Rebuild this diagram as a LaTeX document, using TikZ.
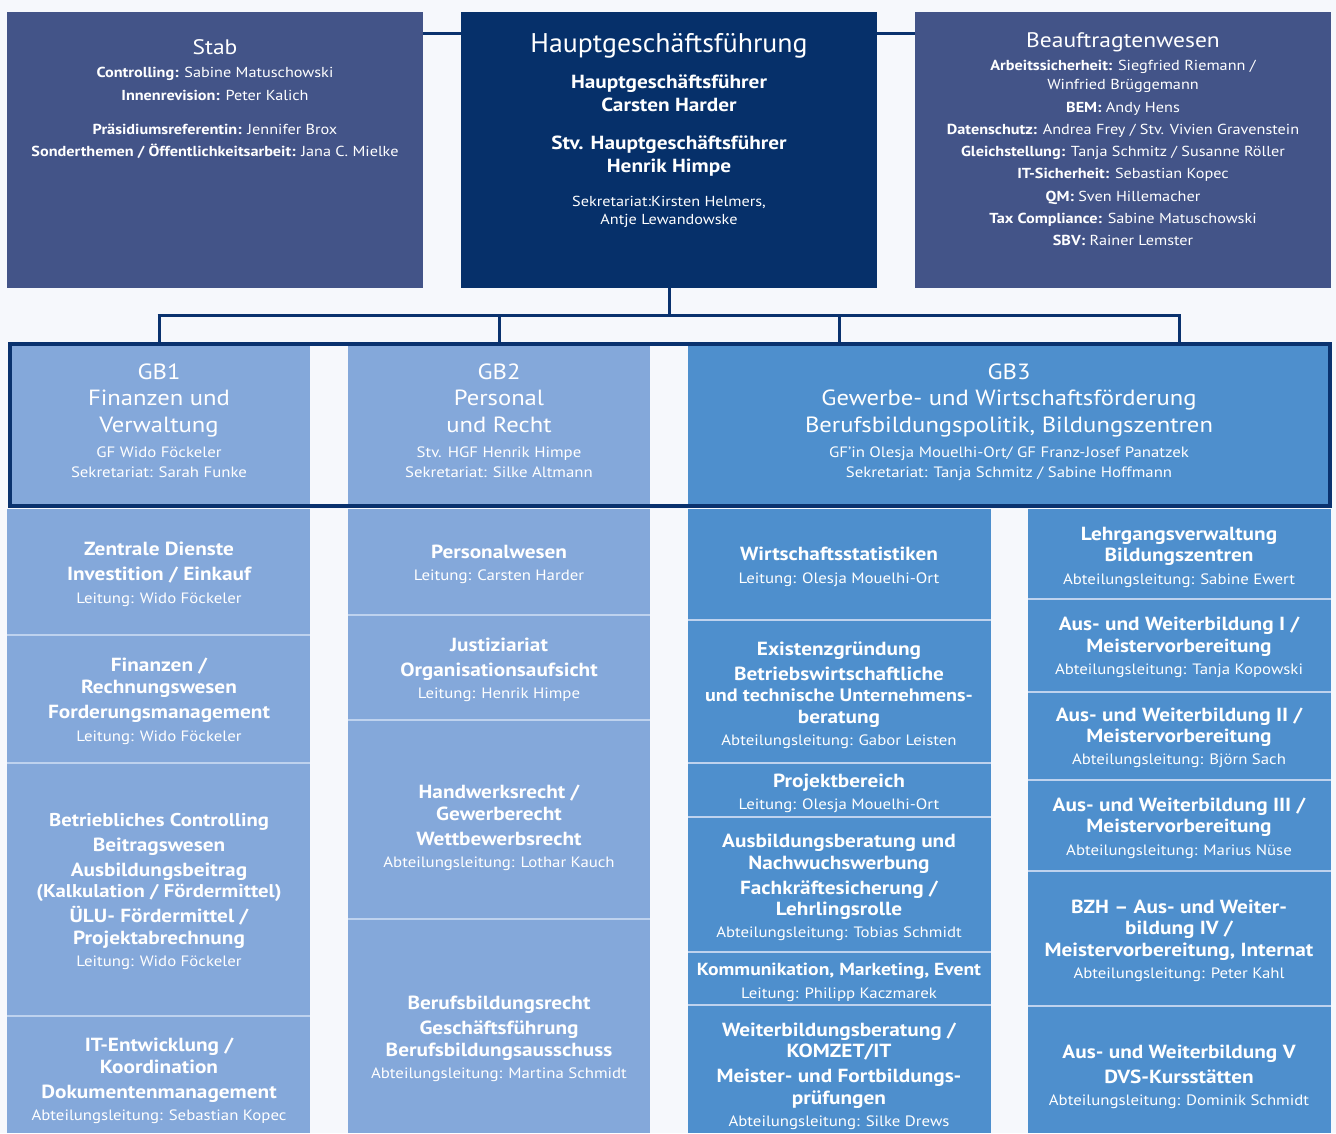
\documentclass[tikz,border=0pt]{standalone}
\usepackage{fontspec}
\setmainfont{PT Sans}[FakeStretch=1.12]
\newfontfamily\hgffont{PT Sans}[FakeStretch=1.03]
\usetikzlibrary{calc}
\definecolor{bgc}{RGB}{246,248,252}
\definecolor{stabc}{RGB}{67,84,136}
\definecolor{hgfc}{RGB}{6,48,106}
\definecolor{lightc}{RGB}{132,168,218}
\definecolor{midc}{RGB}{78,143,205}
\definecolor{darkline}{RGB}{10,50,110}
\definecolor{sepc}{RGB}{190,210,238}
\newcommand\fs[1]{\fontsize{#1}{#1}\selectfont}
\newcounter{lnc}
% \txl{size}{weight}{x}{y}{text}
\newcommand\txl[5]{\stepcounter{lnc}\node[txt,font=\fs{#1}#2] (L\thelnc) at (#3,{#4+0.36*#1}) {#5};}
% \boxr{name}{x1}{y1}{x2}{y2}{color}
\newcommand\boxr[6]{\node[boxn,fill=#6,minimum width={(#4-#2)*1pt},minimum height={(#5-#3)*1pt}] (#1) at (#2,#3) {};}
\tikzset{
  txt/.style={text=white,inner sep=0pt,outer sep=0pt,anchor=base},
  boxn/.style={inner sep=0pt,outer sep=0pt,anchor=north west,draw=none},
  conn/.style={draw=darkline,line width=3pt},
}
\begin{document}
\begin{tikzpicture}[x=1pt,y=-1pt]
\useasboundingbox[fill=bgc] (0,0) rectangle (1336,1133);
% top row
\boxr{stab}{7}{12}{423}{288}{stabc}
\boxr{hgf}{461}{12}{877}{288}{hgfc}
\boxr{beauf}{915}{12}{1331}{288}{stabc}
\draw[conn] ($(stab.north east)+(0,21)$) -- ($(hgf.north west)+(0,21)$);
\draw[conn] ($(hgf.north east)+(0,21)$) -- ($(beauf.north west)+(0,21)$);
% GB row
\boxr{gb1}{8}{342}{310}{507}{lightc}
\boxr{gb2}{348}{342}{650}{507}{lightc}
\boxr{gb3}{688}{342}{1330}{507}{midc}
\node[boxn,draw=darkline,line width=3.5pt,minimum width=1320pt,minimum height=162pt] (frame) at (9.75,343.75) {};
% columns backing
\boxr{k1}{7}{509}{310}{1133}{sepc}
\boxr{k2}{348}{509}{650}{1133}{sepc}
\boxr{k3}{688}{509}{991}{1133}{sepc}
\boxr{k4}{1028}{509}{1331}{1133}{sepc}
% col1
\boxr{c1a}{7}{509}{310}{634}{lightc}
\boxr{c1b}{7}{636}{310}{762}{lightc}
\boxr{c1c}{7}{764}{310}{1015}{lightc}
\boxr{c1d}{7}{1017}{310}{1133}{lightc}
% col2
\boxr{c2a}{348}{509}{650}{614}{lightc}
\boxr{c2b}{348}{616}{650}{719}{lightc}
\boxr{c2c}{348}{721}{650}{918}{lightc}
\boxr{c2d}{348}{920}{650}{1133}{lightc}
% col3
\boxr{c3a}{688}{509}{991}{619}{midc}
\boxr{c3b}{688}{621}{991}{762}{midc}
\boxr{c3c}{688}{764}{991}{816}{midc}
\boxr{c3d}{688}{818}{991}{951}{midc}
\boxr{c3e}{688}{953}{991}{1004}{midc}
\boxr{c3f}{688}{1006}{991}{1133}{midc}
% col4
\boxr{c4a}{1028}{509}{1331}{598}{midc}
\boxr{c4b}{1028}{600}{1331}{691}{midc}
\boxr{c4c}{1028}{693}{1331}{779}{midc}
\boxr{c4d}{1028}{781}{1331}{870}{midc}
\boxr{c4e}{1028}{872}{1331}{1005}{midc}
\boxr{c4f}{1028}{1007}{1331}{1133}{midc}
% tree connectors
\coordinate (bus) at (0,315);
\draw[conn] (hgf.south) -- (hgf.south |- bus);
\draw[conn] ([xshift=-1.5pt]gb1.north |- bus) -- ([xshift=1.5pt]c4a.north |- bus);
\foreach \n in {gb1,gb2,c3a,c4a} \draw[conn] (\n.north |- bus) -- (\n.north |- frame.north);
% ---- texts: Stab
\txl{21}{}{215}{47}{Stab}
\txl{14.5}{}{215}{72}{\textbf{Controlling:} Sabine Matuschowski}
\txl{14.5}{}{215}{95}{\textbf{Innenrevision:} Peter Kalich}
\txl{14.5}{}{215}{129}{\textbf{Präsidiumsreferentin:} Jennifer Brox}
\txl{14.5}{}{215}{151}{\textbf{Sonderthemen / Öffentlichkeitsarbeit:} Jana C. Mielke}
% HGF
\txl{27}{\hgffont}{669}{43}{Hauptgeschäftsführung}
\txl{19}{\bfseries}{669}{82}{Hauptgeschäftsführer}
\txl{19}{\bfseries}{669}{105}{Carsten Harder}
\txl{19}{\bfseries}{669}{143}{Stv. Hauptgeschäftsführer}
\txl{19}{\bfseries}{669}{166}{Henrik Himpe}
\txl{14.5}{}{669}{201}{Sekretariat:Kirsten Helmers,}
\txl{14.5}{}{669}{219}{Antje Lewandowske}
% Beauftragtenwesen
\txl{21}{}{1123}{40}{Beauftragtenwesen}
\txl{14.5}{}{1123}{65}{\textbf{Arbeitssicherheit:} Siegfried Riemann /}
\txl{14.5}{}{1123}{84}{Winfried Brüggemann}
\txl{14.5}{}{1123}{107}{\textbf{BEM:} Andy Hens}
\txl{14.5}{}{1123}{129}{\textbf{Datenschutz:} Andrea Frey / Stv. Vivien Gravenstein}
\txl{14.5}{}{1123}{151}{\textbf{Gleichstellung:} Tanja Schmitz / Susanne Röller}
\txl{14.5}{}{1123}{173}{\textbf{IT-Sicherheit:} Sebastian Kopec}
\txl{14.5}{}{1123}{196}{\textbf{QM:} Sven Hillemacher}
\txl{14.5}{}{1123}{218}{\textbf{Tax Compliance:} Sabine Matuschowski}
\txl{14.5}{}{1123}{240}{\textbf{SBV:} Rainer Lemster}
% GB1
\txl{22}{}{159}{372}{GB1}
\txl{22}{}{159}{398}{Finanzen und}
\txl{22}{}{159}{425}{Verwaltung}
\txl{15}{}{159}{452}{GF Wido Föckeler}
\txl{15}{}{159}{472}{Sekretariat: Sarah Funke}
% GB2
\txl{22}{}{499}{372}{GB2}
\txl{22}{}{499}{398}{Personal}
\txl{22}{}{499}{425}{und Recht}
\txl{15}{}{499}{452}{Stv. HGF Henrik Himpe}
\txl{15}{}{499}{472}{Sekretariat: Silke Altmann}
% GB3
\txl{22}{}{1009}{372}{GB3}
\txl{22}{}{1009}{398}{Gewerbe- und Wirtschaftsförderung}
\txl{22}{}{1009}{425}{Berufsbildungspolitik, Bildungszentren}
\txl{15}{}{1009}{452}{GF’in Olesja Mouelhi-Ort/ GF Franz-Josef Panatzek}
\txl{15}{}{1009}{472}{Sekretariat: Tanja Schmitz / Sabine Hoffmann}
% col1
\txl{19}{\bfseries}{159}{549}{Zentrale Dienste}
\txl{19}{\bfseries}{159}{574}{Investition / Einkauf}
\txl{15}{}{159}{598}{Leitung: Wido Föckeler}
\txl{19}{\bfseries}{159}{665}{Finanzen /}
\txl{19}{\bfseries}{159}{687}{Rechnungswesen}
\txl{19}{\bfseries}{159}{712}{Forderungsmanagement}
\txl{15}{}{159}{736}{Leitung: Wido Föckeler}
\txl{18.5}{\bfseries}{159}{820}{Betriebliches Controlling}
\txl{19}{\bfseries}{159}{845}{Beitragswesen}
\txl{19}{\bfseries}{159}{870}{Ausbildungsbeitrag}
\txl{18.5}{\bfseries}{159}{891}{(Kalkulation / Fördermittel)}
\txl{19}{\bfseries}{159}{916}{ÜLU- Fördermittel /}
\txl{19}{\bfseries}{159}{938}{Projektabrechnung}
\txl{15}{}{159}{961}{Leitung: Wido Föckeler}
\txl{19}{\bfseries}{159}{1045}{IT-Entwicklung /}
\txl{19}{\bfseries}{159}{1067}{Koordination}
\txl{19}{\bfseries}{159}{1092}{Dokumentenmanagement}
\txl{15}{}{159}{1115}{Abteilungsleitung: Sebastian Kopec}
% col2
\txl{19}{\bfseries}{499}{552}{Personalwesen}
\txl{15}{}{499}{575}{Leitung: Carsten Harder}
\txl{19}{\bfseries}{499}{645}{Justiziariat}
\txl{19}{\bfseries}{499}{670}{Organisationsaufsicht}
\txl{15}{}{499}{693}{Leitung: Henrik Himpe}
\txl{19}{\bfseries}{499}{792}{Handwerksrecht /}
\txl{19}{\bfseries}{499}{814}{Gewerberecht}
\txl{19}{\bfseries}{499}{839}{Wettbewerbsrecht}
\txl{15}{}{499}{862}{Abteilungsleitung: Lothar Kauch}
\txl{19}{\bfseries}{499}{1003}{Berufsbildungsrecht}
\txl{19}{\bfseries}{499}{1028}{Geschäftsführung}
\txl{19}{\bfseries}{499}{1050}{Berufsbildungsausschuss}
\txl{15}{}{499}{1073}{Abteilungsleitung: Martina Schmidt}
% col3
\txl{19}{\bfseries}{839}{554}{Wirtschaftsstatistiken}
\txl{15}{}{839}{578}{Leitung: Olesja Mouelhi-Ort}
\txl{19}{\bfseries}{839}{649}{Existenzgründung}
\txl{19}{\bfseries}{839}{674}{Betriebswirtschaftliche}
\txl{18}{\bfseries}{839}{695}{und technische Unternehmens-}
\txl{19}{\bfseries}{839}{717}{beratung}
\txl{15}{}{839}{740}{Abteilungsleitung: Gabor Leisten}
\txl{19}{\bfseries}{839}{781}{Projektbereich}
\txl{15}{}{839}{804}{Leitung: Olesja Mouelhi-Ort}
\txl{19}{\bfseries}{839}{841}{Ausbildungsberatung und}
\txl{19}{\bfseries}{839}{863}{Nachwuchswerbung}
\txl{19}{\bfseries}{839}{888}{Fachkräftesicherung /}
\txl{19}{\bfseries}{839}{909}{Lehrlingsrolle}
\txl{15}{}{839}{932}{Abteilungsleitung: Tobias Schmidt}
\txl{17.5}{\bfseries}{839}{969}{Kommunikation, Marketing, Event}
\txl{15}{}{839}{993}{Leitung: Philipp Kaczmarek}
\txl{19}{\bfseries}{839}{1030}{Weiterbildungsberatung /}
\txl{19}{\bfseries}{839}{1051}{KOMZET/IT}
\txl{19}{\bfseries}{839}{1076}{Meister- und Fortbildungs-}
\txl{19}{\bfseries}{839}{1098}{prüfungen}
\txl{15}{}{839}{1121}{Abteilungsleitung: Silke Drews}
% col4
\txl{19}{\bfseries}{1179}{534}{Lehrgangsverwaltung}
\txl{19}{\bfseries}{1179}{555}{Bildungszentren}
\txl{15}{}{1179}{579}{Abteilungsleitung: Sabine Ewert}
\txl{19}{\bfseries}{1179}{624}{Aus- und Weiterbildung I /}
\txl{19}{\bfseries}{1179}{646}{Meistervorbereitung}
\txl{15}{}{1179}{669}{Abteilungsleitung: Tanja Kopowski}
\txl{19}{\bfseries}{1179}{715}{Aus- und Weiterbildung II /}
\txl{19}{\bfseries}{1179}{736}{Meistervorbereitung}
\txl{15}{}{1179}{759}{Abteilungsleitung: Björn Sach}
\txl{19}{\bfseries}{1179}{805}{Aus- und Weiterbildung III /}
\txl{19}{\bfseries}{1179}{826}{Meistervorbereitung}
\txl{15}{}{1179}{850}{Abteilungsleitung: Marius Nüse}
\txl{19}{\bfseries}{1179}{907}{BZH – Aus- und Weiter-}
\txl{19}{\bfseries}{1179}{928}{bildung IV /}
\txl{19}{\bfseries}{1179}{950}{Meistervorbereitung, Internat}
\txl{15}{}{1179}{973}{Abteilungsleitung: Peter Kahl}
\txl{19}{\bfseries}{1179}{1052}{Aus- und Weiterbildung V}
\txl{19}{\bfseries}{1179}{1077}{DVS-Kursstätten}
\txl{15}{}{1179}{1100}{Abteilungsleitung: Dominik Schmidt}
\end{tikzpicture}
\end{document}
